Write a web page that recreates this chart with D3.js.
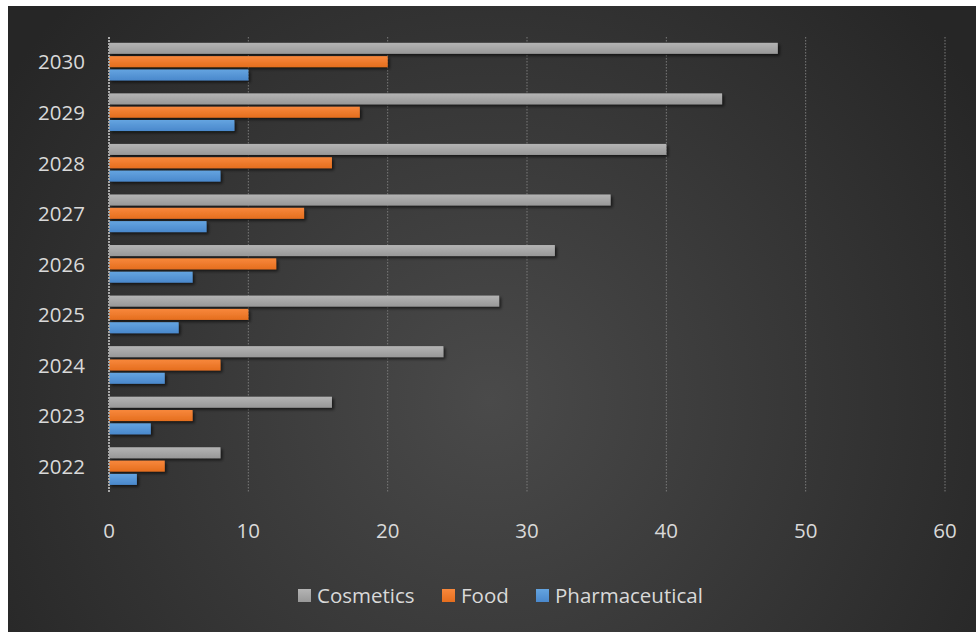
<!DOCTYPE html>
<html><head><meta charset="utf-8">
<script src="https://cdn.jsdelivr.net/npm/d3@7/dist/d3.min.js"></script>
<style>html,body{margin:0;padding:0;background:#fff;}svg{display:block;}</style>
</head><body>
<script>
const years = ["2022","2023","2024","2025","2026","2027","2028","2029","2030"];
const seriesNames = ["Cosmetics","Food","Pharmaceutical"];
const cosmetics = [8,16,24,28,32,36,40,44,48];
const food = [4,6,8,10,12,14,16,18,20];
const pharmaceutical = [2,3,4,5,6,7,8,9,10];
const xTicks = [0,10,20,30,40,50,60];
const colors = {Cosmetics:["#b4b4b4","#989898"], Food:["#f8883c","#e56e1e"], Pharmaceutical:["#64a4e0","#4a88cc"]};

const W=976,H=632;
const svg=d3.select("body").append("svg").attr("width",W).attr("height",H);
const defs=svg.append("defs");
const rg=defs.append("radialGradient").attr("id","bg").attr("gradientUnits","userSpaceOnUse")
  .attr("cx",490).attr("cy",400).attr("r",580);
rg.append("stop").attr("offset","0").attr("stop-color","#4a4a4a");
rg.append("stop").attr("offset","1").attr("stop-color","#262626");
seriesNames.forEach((s,i)=>{
  const lg=defs.append("linearGradient").attr("id","g"+i).attr("x1",0).attr("y1",0).attr("x2",0).attr("y2",1);
  lg.append("stop").attr("offset","0").attr("stop-color",colors[s][0]);
  lg.append("stop").attr("offset","1").attr("stop-color",colors[s][1]);
});
const f=defs.append("filter").attr("id","sh").attr("x","-10%").attr("y","-50%").attr("width","130%").attr("height","250%");
f.append("feDropShadow").attr("dx",2).attr("dy",2).attr("stdDeviation",1.5).attr("flood-color","#000").attr("flood-opacity",0.6);

svg.append("rect").attr("x",8).attr("y",6).attr("width",W-8).attr("height",H-6).attr("fill","url(#bg)");

const x=d3.scaleLinear().domain([0,60]).range([109,945]);
const y=d3.scaleBand().domain(years.slice().reverse()).range([37,492]).paddingInner(0.21).paddingOuter(0.105);
const ys=d3.scaleBand().domain(seriesNames).range([0,y.bandwidth()]);

const font="'Open Sans', sans-serif";
const fs=20.5;
// gridlines
svg.append("g").selectAll("line").data(xTicks.slice(1)).join("line")
  .attr("x1",d=>x(d)).attr("x2",d=>x(d)).attr("y1",37).attr("y2",492)
  .attr("stroke","#7a7a7a").attr("stroke-width",1).attr("stroke-dasharray","1.5,1.5");

const data={Cosmetics:cosmetics,Food:food,Pharmaceutical:pharmaceutical};
seriesNames.forEach((s,i)=>{
  svg.append("g").attr("filter","url(#sh)").selectAll("rect").data(years).join("rect")
    .attr("x",x(0)).attr("y",(d)=>y(d)+ys(s)+0.5)
    .attr("width",(d,j)=>x(data[s][j])-x(0)).attr("height",ys.bandwidth()-2.3)
    .attr("fill","url(#g"+i+")");
});
// axis line
svg.append("line").attr("x1",x(0)).attr("x2",x(0)).attr("y1",37).attr("y2",492)
  .attr("stroke","#a8a8a8").attr("stroke-width",2).attr("stroke-dasharray","2,1");

// y labels
svg.append("g").selectAll("text").data(years).join("text")
  .attr("x",85).attr("y",d=>y(d)+y.bandwidth()/2).attr("dy","0.35em").attr("text-anchor","end")
  .attr("font-family",font).attr("font-size",fs).attr("fill","#d9d9d9").text(d=>d);
// x labels
svg.append("g").selectAll("text").data(xTicks).join("text")
  .attr("x",d=>x(d)).attr("y",531).attr("dy","0.35em").attr("text-anchor","middle")
  .attr("font-family",font).attr("font-size",fs).attr("fill","#d9d9d9").text(d=>d);

// legend
const legX=[298,442,536];
const lg=svg.append("g");
seriesNames.forEach((s,i)=>{
  lg.append("rect").attr("x",legX[i]).attr("y",589).attr("width",13).attr("height",13).attr("fill","url(#g"+i+")");
  lg.append("text").attr("x",legX[i]+19).attr("y",596).attr("dy","0.35em")
    .attr("font-family",font).attr("font-size",fs).attr("fill","#d9d9d9").text(s);
});
</script>
</body></html>
